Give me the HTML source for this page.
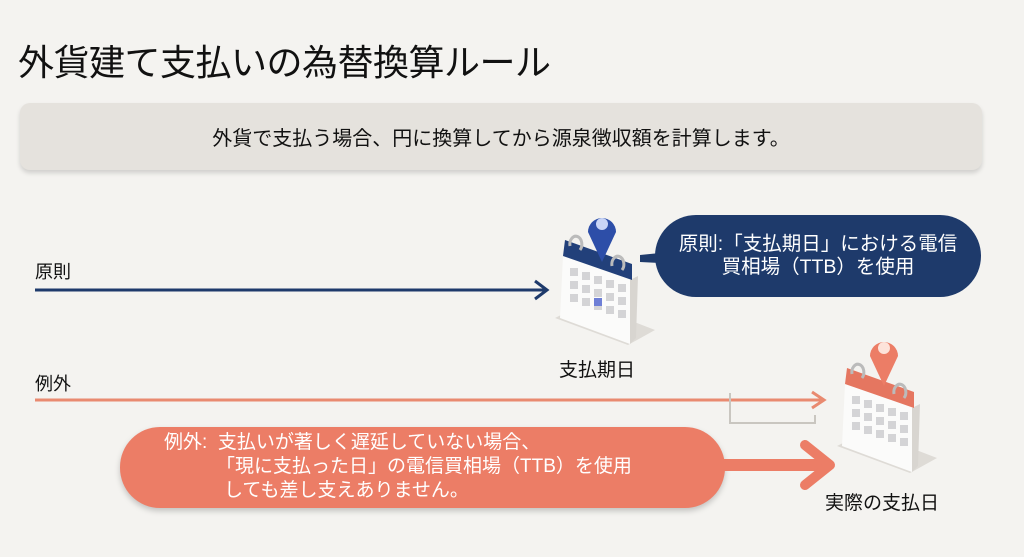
<!DOCTYPE html>
<html><head><meta charset="utf-8"><style>
body{margin:0;width:1024px;height:557px;background:#f4f3f0;position:relative;overflow:hidden;font-family:"Liberation Sans","Noto Sans CJK JP",sans-serif;color:#111}
.a{position:absolute;white-space:nowrap}
</style></head><body>
<div class="a" style="left:18px;top:34px;font-size:36px;letter-spacing:-0.5px">外貨建て支払いの為替換算ルール</div>
<div class="a" style="left:20px;top:103px;width:962px;height:67px;background:#e5e2dd;border-radius:10px;box-shadow:0 3px 5px rgba(0,0,0,0.15)"></div>
<div class="a" style="left:20px;top:122px;width:962px;text-align:center;font-size:20px">外貨で支払う場合、円に換算してから源泉徴収額を計算します。</div>
<div class="a" style="left:35px;top:258px;font-size:18px">原則</div>
<div class="a" style="left:35px;top:370px;font-size:18px">例外</div>
<svg class="a" style="left:0;top:0" width="1024" height="557">
<defs>
<g id="cal">
<polygon points="555,318 628,345 655,330 585,303" fill="#dedbd6"/>
<polygon points="563,256 632,280 630,344 560,318" fill="#fbfbfa"/>
<polygon points="630,280 638,276 636,338 630,344" fill="#d8d5d0"/>
<g fill="#d4d4d6">
<rect x="570" y="268" width="8" height="8"/><rect x="582" y="272" width="8" height="8"/><rect x="594" y="276" width="8" height="8"/><rect x="606" y="280" width="8" height="8"/><rect x="618" y="284" width="8" height="8"/>
<rect x="570" y="281" width="8" height="8"/><rect x="582" y="285" width="8" height="8"/><rect x="594" y="289" width="8" height="8"/><rect x="606" y="293" width="8" height="8"/><rect x="618" y="297" width="8" height="8"/>
<rect x="570" y="294" width="8" height="8"/><rect x="582" y="298" width="8" height="8"/><rect x="594" y="302" width="8" height="8"/><rect x="606" y="306" width="8" height="8"/><rect x="618" y="310" width="8" height="8"/>
</g>
</g>
</defs>
<line x1="35" y1="290" x2="545" y2="290" stroke="#1e3a6b" stroke-width="3"/>
<polyline points="535,281 547,290 535,299" fill="none" stroke="#1e3a6b" stroke-width="3"/>
<use href="#cal"/>
<polygon points="565,240 632,264 632,280 563,256" fill="#22407a"/>
<rect x="594" y="298" width="8" height="8" fill="#6e7fd6"/>
<path d="M570,246 a6,8 0 1 1 10,4" fill="none" stroke="#bbb" stroke-width="3"/>
<path d="M612,266 a6,8 0 1 1 10,4" fill="none" stroke="#bbb" stroke-width="3"/>
<path d="M602,262 L588,232 A14,14 0 1 1 616,232 Z" fill="#2d4ea8"/>
<circle cx="602" cy="224" r="6" fill="#c8d4f6"/>
<rect x="655" y="215" width="326" height="82" rx="41" fill="#1e3a6b"/>
<path d="M640,255 L660,253 L660,263 L640,262 Z" fill="#1e3a6b"/>
<line x1="35" y1="400" x2="822" y2="400" stroke="#e98a70" stroke-width="3"/>
<polyline points="812,392 824,400 812,408" fill="none" stroke="#e98a70" stroke-width="3"/>
<polyline points="730,393 730,423 815,423 815,415" fill="none" stroke="#c9c6c0" stroke-width="2"/>
<g transform="translate(282,128)">
<use href="#cal"/>
<polygon points="565,240 632,264 632,280 563,256" fill="#e57660"/>
<path d="M570,246 a6,8 0 1 1 10,4" fill="none" stroke="#bbb" stroke-width="3"/>
<path d="M612,266 a6,8 0 1 1 10,4" fill="none" stroke="#bbb" stroke-width="3"/>
<path d="M602,258 L588,228 A14,14 0 1 1 616,228 Z" fill="#ec7d66"/>
<circle cx="602" cy="220" r="6" fill="#fde3da"/>
</g>
<rect x="120" y="427" width="605" height="81" rx="40" fill="#ec7d66" style="filter:drop-shadow(0 3px 3px rgba(0,0,0,.2))"/>
<line x1="715" y1="465" x2="828" y2="465" stroke="#ec7d66" stroke-width="12"/>
<polyline points="805,445 830,465 805,485" fill="none" stroke="#ec7d66" stroke-width="10" stroke-linecap="round" stroke-linejoin="round"/>
</svg>
<div class="a" style="left:655px;top:233px;width:326px;text-align:center;color:#fff;font-size:19.5px;line-height:23px">原則:「支払期日」における電信<br>買相場（TTB）を使用</div>
<div class="a" style="left:559px;top:355px;font-size:19px">支払期日</div>
<div class="a" style="left:825px;top:488px;font-size:19px">実際の支払日</div>
<div class="a" style="left:164px;top:431px;color:#fff;font-size:19px;line-height:24px">例外:&nbsp; 支払いが著しく遅延していない場合、<br><span style="padding-left:52px">「現に支払った日」の電信買相場（TTB）を使用</span><br><span style="padding-left:60px">しても差し支えありません。</span></div>
</body></html>
